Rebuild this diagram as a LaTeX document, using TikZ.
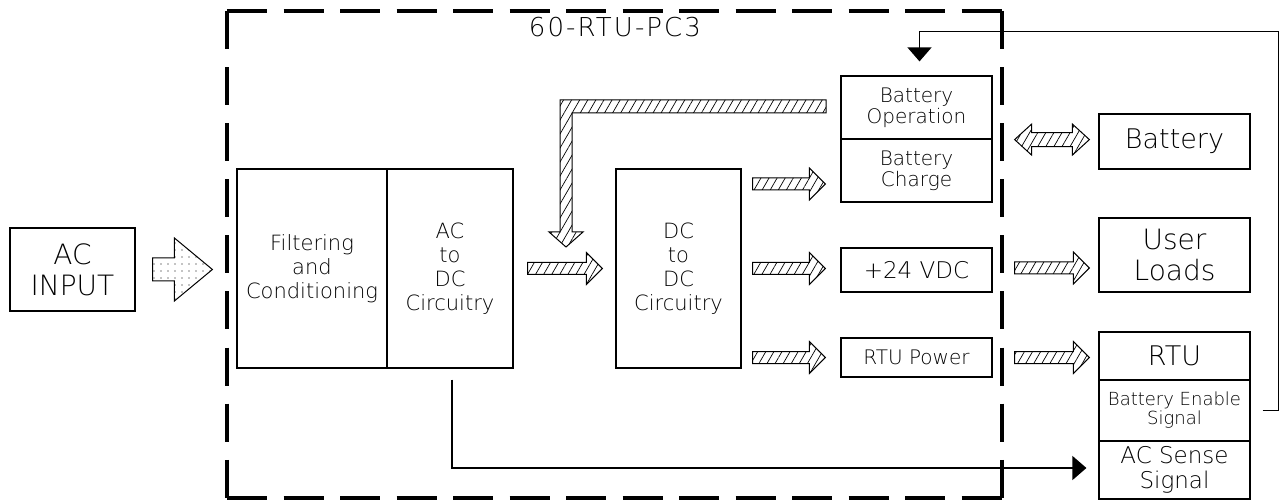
\documentclass[tikz,border=0pt]{standalone}
\usepackage{fontspec}
\setmainfont{DejaVu Sans ExtraLight}
\usetikzlibrary{positioning, calc, patterns.meta, arrows.meta}

\tikzset{
  block/.style={draw, line width=1.2pt, inner sep=0pt, align=center},
  hatch/.style={draw, line width=1pt, pattern={Lines[angle=60,distance=7pt,line width=0.7pt]}},
  dotty/.style={draw, line width=1pt, pattern={Dots[distance=7pt,radius=0.7pt]}},
  signal/.style={line width=1.3pt, -{Triangle[length=14pt,width=24pt]}},
  boundh/.style={line width=4pt, dash pattern=on 40pt off 16.5pt},
  boundv/.style={line width=4pt, dash pattern=on 38pt off 18.1pt},
  f18/.style={font=\fontsize{18}{19}\selectfont},
  f20/.style={font=\fontsize{20}{21}\selectfont},
  f21/.style={font=\fontsize{21}{24}\selectfont},
  f23/.style={font=\fontsize{23}{25}\selectfont},
  f27/.style={font=\fontsize{27}{30}\selectfont},
  f28/.style={font=\fontsize{28}{31}\selectfont},
  titlefont/.style={font=\fontsize{26}{28}\selectfont\addfontfeatures{LetterSpace=8}},
}

% block arrow to the right: [style]{from}{to}{shaft half}{head half}{head length}
\newcommand{\blockarrow}[6][hatch]{%
  \draw[#1] let \p1=#2, \p2=#3 in
    (\x1,{\y1+#4}) -- ({\x2-#6},{\y1+#4}) -- ({\x2-#6},{\y1+#5}) -- (\x2,\y1)
    -- ({\x2-#6},{\y1-#5}) -- ({\x2-#6},{\y1-#4}) -- (\x1,{\y1-#4}) -- cycle;
}
% block arrow with a head at both ends
\newcommand{\dblarrow}[6][hatch]{%
  \draw[#1] let \p1=#2, \p2=#3 in
    (\x1,\y1) -- ({\x1+#6},{\y1+#5}) -- ({\x1+#6},{\y1+#4}) -- ({\x2-#6},{\y1+#4})
    -- ({\x2-#6},{\y1+#5}) -- (\x2,\y1) -- ({\x2-#6},{\y1-#5}) -- ({\x2-#6},{\y1-#4})
    -- ({\x1+#6},{\y1-#4}) -- ({\x1+#6},{\y1-#5}) -- cycle;
}

\begin{document}
\begin{tikzpicture}[x=1pt, y=-1pt]
    \useasboundingbox (0,0) rectangle (1284,502);

    % unit boundary
    \draw[boundh] (227,11) -- (1002,11);
    \draw[boundh] (227,498) -- (1002,498);
    \draw[boundv] (227,11) -- (227,498);
    \draw[boundv] (1002,11) -- (1002,498);
    \node[titlefont] (title) at (615,27) {60-RTU-PC3};

    % blocks
    \node[block, f28, minimum width=125pt, minimum height=83pt] (acin) at (72.5,269.5) {AC\\INPUT};
    \node[block, f21, minimum width=150pt, minimum height=199pt] (filt) at (312,268.5) {Filtering\\and\\Conditioning};
    \node[block, f21, minimum width=126pt, minimum height=199pt] (acdc) at (450,268.5) {AC\\to\\DC\\Circuitry};
    \node[block, f21, minimum width=125pt, minimum height=199pt] (dcdc) at (678.5,268.5) {DC\\to\\DC\\Circuitry};
    \node[block, f20, minimum width=151pt, minimum height=63pt] (bop) at (916.5,107.5) {Battery\\Operation};
    \node[block, f20, minimum width=151pt, minimum height=63pt] (bchg) at (916.5,170.5) {Battery\\Charge};
    \node[block, f23, minimum width=151pt, minimum height=44pt] (vdc) at (916.5,270) {+24 VDC};
    \node[block, f20, minimum width=151pt, minimum height=39pt] (rtupw) at (916.5,357.5) {RTU Power};
    \node[block, f27, minimum width=151pt, minimum height=55pt] (batt) at (1174.5,141.5) {Battery};
    \node[block, f28, minimum width=151pt, minimum height=74pt] (loads) at (1174.5,255) {User\\Loads};
    \node[block, f27, minimum width=151pt, minimum height=48pt] (rtu) at (1174.5,356) {RTU};
    \node[block, f18, minimum width=151pt, minimum height=61pt] (bensig) at (1174.5,410.5) {Battery Enable\\Signal};
    \node[block, f23, minimum width=151pt, minimum height=58pt] (acsig) at (1174.5,470) {AC Sense\\Signal};

    % power flow
    \blockarrow[dotty]{($(acin.east)+(17,0)$)}{($(filt.west)+(-24,0)$)}{11.5pt}{31.5pt}{38pt}
    \blockarrow{($(acdc.east)+(14,0)$)}{($(dcdc.west)+(-13,0)$)}{6pt}{16pt}{16pt}
    \blockarrow{($(dcdc.east)+(11,-84.5)$)}{($(bchg.west)+(-15,0)$)}{6pt}{16pt}{16pt}
    \blockarrow{($(dcdc.east)+(11,0)$)}{($(vdc.west)+(-15,0)$)}{6pt}{16pt}{16pt}
    \blockarrow{($(dcdc.east |- rtupw)+(11,0)$)}{($(rtupw.west)+(-15,0)$)}{6pt}{16pt}{16pt}
    \blockarrow{($(vdc.east)+(22,-2)$)}{($(loads.west)+(-9,0)$)}{6pt}{16pt}{16pt}
    \blockarrow{($(rtupw.east)+(22,0)$)}{($(rtu.west)+(-9,0)$)}{6pt}{16pt}{16pt}
    \dblarrow{($(bop.south east)+(22,0)$)}{($(batt.west)+(-9,0)$)}{7pt}{15.5pt}{17pt}

    % battery back to dc/dc
    \draw[hatch] (826,100) -- (560,100) -- (560,232) -- (549,232) -- (566,247)
        -- (583,232) -- (572,232) -- (572,113) -- (826,113) -- cycle;

    % signals
    \draw[signal] ($(acdc.south)+(2,11)$) |- ($(acsig.west)+(-12,-2)$);
    \draw[signal] ($(bensig.east)+(12,0)$) -- ++(16,0) |- ($(bop.north)+(3,-44)$) -- ($(bop.north)+(3,-14)$);
\end{tikzpicture}
\end{document}
